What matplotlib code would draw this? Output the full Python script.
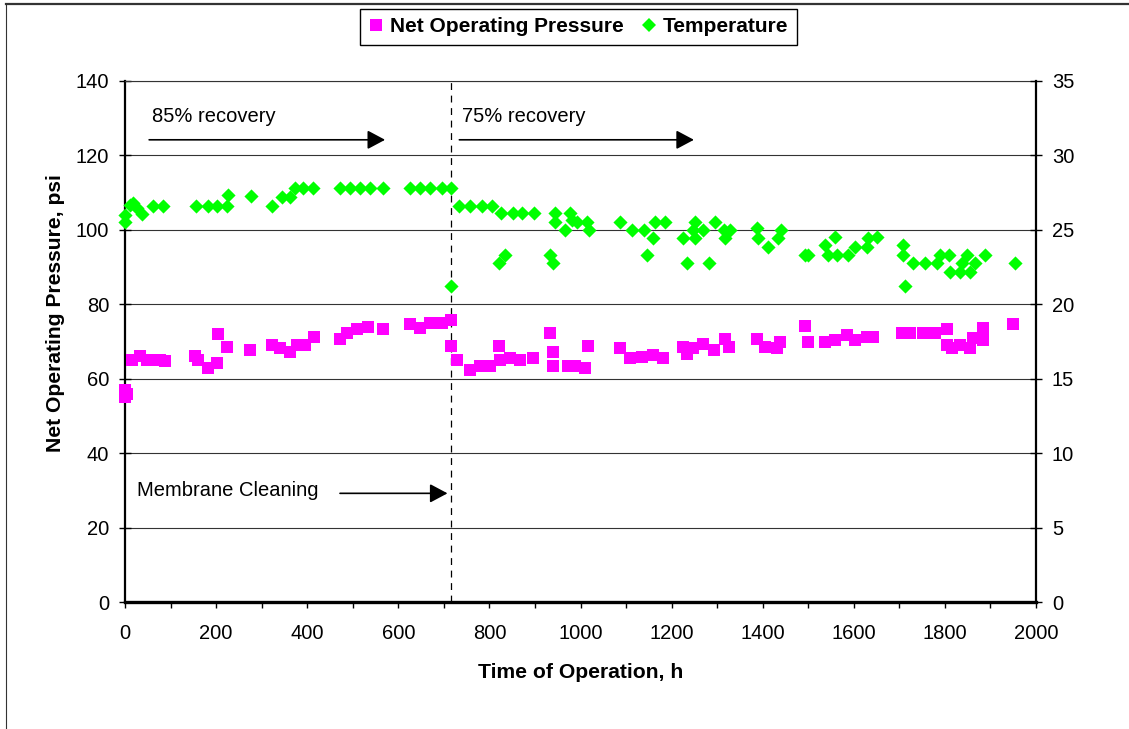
import matplotlib
matplotlib.use("Agg")
import matplotlib.pyplot as plt
from matplotlib.lines import Line2D
from matplotlib.ticker import MultipleLocator

plt.rcParams['font.family'] = ['Liberation Sans', 'DejaVu Sans']

# ---------------- data ----------------
pressure_h = [0, 0, 5, 15, 33, 48, 62, 77, 88,
              154, 161, 183, 201, 204, 223, 274,
              322, 340, 362, 377, 395, 415,
              472, 487, 509, 534, 567,
              626, 648, 670, 695, 715, 715, 728,
              757, 779, 801, 820, 823, 845, 867, 896,
              933, 940, 940, 973, 988, 1010, 1017,
              1087, 1109, 1134, 1160, 1182,
              1226, 1233, 1248, 1270, 1292, 1317, 1325,
              1387, 1405, 1431, 1438,
              1493, 1500, 1537, 1559, 1584, 1603, 1628, 1643,
              1705, 1723, 1753, 1778, 1804, 1804, 1815, 1833, 1855, 1862, 1884, 1884, 1950]
pressure_psi = [57, 55, 56, 65, 66, 65, 65, 65, 64.7,
                66.1, 65, 62.8, 64.2, 72, 68.5, 67.7,
                69, 68.2, 67.3, 69, 69, 71.2,
                70.6, 72.4, 73.3, 74, 73.3,
                74.7, 73.6, 75, 75, 75.8, 68.8, 65,
                62.4, 63.3, 63.3, 68.8, 65, 65.5, 65, 65.5,
                72.4, 67.3, 63.3, 63.3, 63.5, 63, 68.8,
                68.2, 65.5, 65.9, 66.3, 65.5,
                68.5, 66.7, 68.2, 69.3, 67.7, 70.6, 68.5,
                70.6, 68.5, 68.2, 70,
                74.2, 70, 70, 70.3, 71.8, 70.3, 71.3, 71.3,
                72.2, 72.4, 72.2, 72.4, 73.3, 69, 68.2, 69, 68.2, 70.9, 73.6, 70.3, 74.6]

temp_h = [0, 0, 11, 18, 26, 37,
          62, 84, 156, 183, 203, 223, 227, 276, 323, 344, 362,
          373, 391, 413, 472, 494, 516, 538, 567, 626, 648, 670, 695, 715, 715,
          734, 757, 783, 805, 825, 852, 871, 899, 834, 820,
          944, 944, 933, 940, 966, 977, 981, 992, 1014, 1019,
          1087, 1112, 1139, 1145, 1160, 1164, 1185,
          1226, 1233, 1248, 1251, 1251, 1270, 1283, 1295, 1314, 1317, 1328,
          1387, 1390, 1412, 1434, 1440,
          1493, 1500, 1537, 1544, 1559, 1563, 1588, 1603, 1628, 1632, 1650,
          1709, 1709, 1712, 1731, 1756, 1782, 1789, 1808, 1811, 1833, 1837, 1848, 1855, 1866, 1888, 1954]
temp_c = [25.55, 26.0, 26.67, 26.78, 26.45, 26.06,
          26.6, 26.6, 26.6, 26.6, 26.6, 26.6, 27.34, 27.27, 26.6, 27.2, 27.2,
          27.8, 27.8, 27.8, 27.8, 27.8, 27.8, 27.8, 27.8, 27.8, 27.8, 27.8, 27.8, 27.8, 21.2,
          26.6, 26.6, 26.6, 26.6, 26.1, 26.1, 26.1, 26.1, 23.3, 22.75,
          26.15, 25.55, 23.3, 22.75, 25.0, 26.15, 25.66, 25.55, 25.55, 25.0,
          25.55, 25.0, 25.0, 23.3, 24.43, 25.55, 25.55,
          24.43, 22.75, 25.0, 25.55, 24.43, 25.0, 22.75, 25.55, 25.0, 24.43, 25.0,
          25.1, 24.43, 23.87, 24.43, 25.0,
          23.3, 23.3, 24.0, 23.3, 24.55, 23.3, 23.3, 23.87, 23.87, 24.43, 24.55,
          24.0, 23.3, 21.2, 22.75, 22.75, 22.75, 23.3, 23.3, 22.2, 22.2, 22.75, 23.3, 22.2, 22.75, 23.3, 22.75]

x_ticks = list(range(0, 2001, 200))
left_ticks = list(range(0, 141, 20))
right_ticks = list(range(0, 36, 5))
cleaning_h = 715

series_names = ["Net Operating Pressure", "Temperature"]
MAGENTA = "#FF00FF"
GREEN = "#00FF00"

# ---------------- figure ----------------
W, H = 1129, 729
fig = plt.figure(figsize=(W / 100, H / 100), dpi=100)
ax = fig.add_axes([125 / W, 1 - 602 / H, 911 / W, 521 / H])
ax2 = ax.twinx()

ax.set_xlim(0, 2000)
ax.set_ylim(0, 140)
ax2.set_ylim(0, 35)

ax.set_xticks(x_ticks)
ax.xaxis.set_minor_locator(MultipleLocator(100))
ax.set_yticks(left_ticks)
ax2.set_yticks(right_ticks)

ax.yaxis.grid(True, color="#333333", lw=0.8)
ax.set_axisbelow(True)

# spines
ax.spines["right"].set_visible(False)
ax.spines["left"].set_linewidth(1.6)
ax.spines["bottom"].set_linewidth(2.4)
ax.spines["top"].set_linewidth(0.8)
ax.spines["top"].set_color("#333333")
for s in ["left", "top", "bottom"]:
    ax2.spines[s].set_visible(False)
ax2.spines["right"].set_linewidth(1.6)

ax.tick_params(axis="x", which="both", direction="out", length=4.5, width=1, pad=11, labelsize=14.5)
ax.tick_params(axis="y", direction="inout", length=9, width=1, pad=7, labelsize=14.5)
ax2.tick_params(axis="y", direction="inout", length=9, width=1, pad=7, labelsize=14.5)

# data
ax.scatter(pressure_h, pressure_psi, marker="s", s=74, c=MAGENTA, linewidths=0, zorder=3, clip_on=False)
ax2.scatter(temp_h, temp_c, marker="D", s=52, c=GREEN, linewidths=0, zorder=3, clip_on=False)

# cleaning line
ax.axvline(cleaning_h, color="black", lw=0.9, linestyle=(0, (5.5, 4.5)), zorder=2)

# labels
ax.set_xlabel("Time of Operation, h", fontsize=15.2, fontweight="bold")
ax.xaxis.set_label_coords(0.5, -0.117)
ax.set_ylabel("Net Operating Pressure, psi", fontsize=15.2, fontweight="bold")
ax.yaxis.set_label_coords(-0.0655, 0.555)

# annotations
arrow_kw = dict(arrowstyle="-|>,head_length=0.6,head_width=0.32", color="black", lw=1.2,
                mutation_scale=18, shrinkA=0, shrinkB=0)
ax.text(59, 129.0, "85% recovery", fontsize=14.5, ha="left", va="baseline")
ax.annotate("", xy=(571, 124.2), xytext=(53, 124.2), arrowprops=arrow_kw)
ax.text(739, 129.0, "75% recovery", fontsize=14.5, ha="left", va="baseline")
ax.annotate("", xy=(1249, 124.2), xytext=(734, 124.2), arrowprops=arrow_kw)
ax.text(26, 28.6, "Membrane Cleaning", fontsize=14.5, ha="left", va="baseline")
ax.annotate("", xy=(708, 29.2), xytext=(472, 29.2), arrowprops=arrow_kw)

# legend
handles = [Line2D([], [], marker="s", markersize=8.6, color=MAGENTA, lw=0, markeredgewidth=0),
           Line2D([], [], marker="D", markersize=7.4, color=GREEN, lw=0, markeredgewidth=0)]
leg = fig.legend(handles, series_names, loc="center", bbox_to_anchor=(578.5 / W, 1 - 26.9 / H),
                 ncol=2, frameon=True, fancybox=False, edgecolor="black", framealpha=1,
                 prop={"weight": "bold", "size": 15}, handlelength=0.7, handletextpad=0.3,
                 columnspacing=0.9, borderpad=0.4)
leg.get_frame().set_linewidth(1.0)

# outer chart border (partially cropped)
fig.add_artist(Line2D([6 / W, 1], [1 - 4 / H, 1 - 4 / H], transform=fig.transFigure, color="#333333", lw=1.6))
fig.add_artist(Line2D([6 / W, 6 / W], [0, 1 - 4 / H], transform=fig.transFigure, color="#333333", lw=0.8))

fig.savefig("out.png", dpi=100, facecolor="white")
